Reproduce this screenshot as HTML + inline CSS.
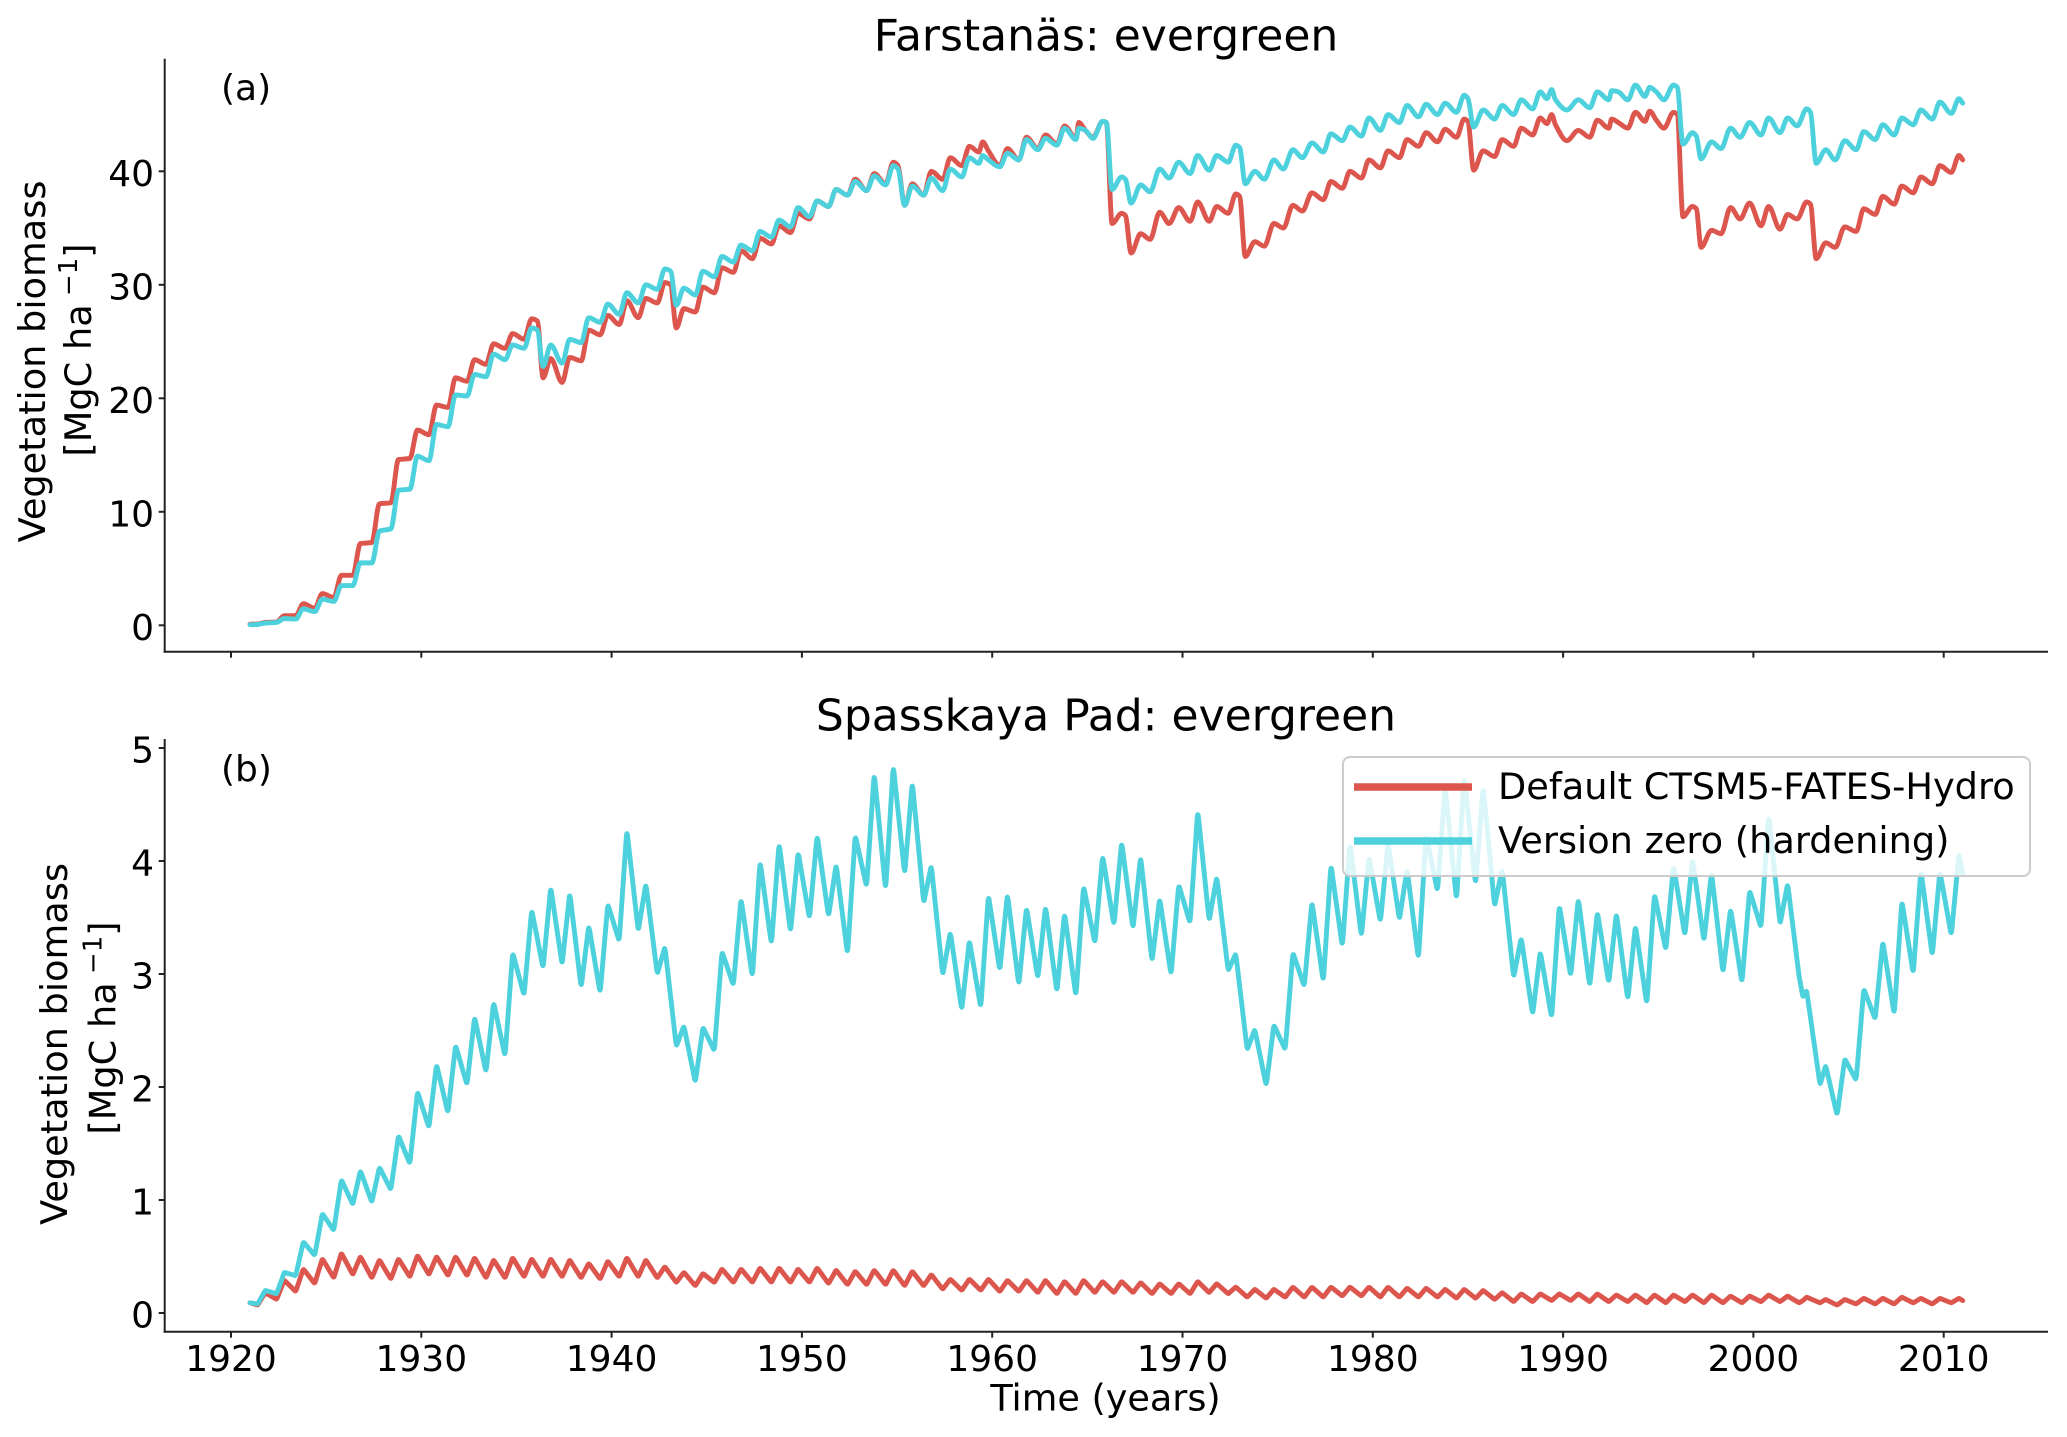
<!DOCTYPE html>
<html lang="en">
<head>
<meta charset="utf-8">
<title>Vegetation biomass: evergreen</title>
<style>
html,body{margin:0;padding:0;background:#fff;width:2067px;height:1437px;overflow:hidden}
svg{display:block}
text{font-family:"DejaVu Sans","Liberation Sans",sans-serif;fill:#000}
</style>
</head>
<body>
<svg id="chart" xmlns="http://www.w3.org/2000/svg" width="2067" height="1437" viewBox="0 0 2067 1437">
  <rect x="0" y="0" width="2067" height="1437" fill="#fff"/>
  <g id="panel-a">
    <text x="1106" y="50.5" font-size="44" text-anchor="middle">Farstanäs: evergreen</text>
    <text x="221" y="100" font-size="36">(a)</text>
    <text transform="translate(45,361.5) rotate(-90)" font-size="36.7" text-anchor="middle">Vegetation biomass</text>
    <text transform="translate(91,350) rotate(-90)" font-size="36.7" text-anchor="middle">[MgC ha<tspan font-size="26" dy="-14"> −1</tspan><tspan dy="14">]</tspan></text>
  </g>
  <g id="panel-b">
    <text x="1106" y="730.5" font-size="44" text-anchor="middle">Spasskaya Pad: evergreen</text>
    <text x="221" y="781" font-size="36">(b)</text>
    <text transform="translate(67,1044) rotate(-90)" font-size="36.7" text-anchor="middle">Vegetation biomass</text>
    <text transform="translate(115.5,1028) rotate(-90)" font-size="36.7" text-anchor="middle">[MgC ha<tspan font-size="26" dy="-14"> −1</tspan><tspan dy="14">]</tspan></text>
    <text x="1105.5" y="1410.5" font-size="36.6" text-anchor="middle">Time (years)</text>
  </g>
  <g id="legend"></g>
</svg>
<script>
/* ---------- tick labels ---------- */
const xTicks = [1920, 1930, 1940, 1950, 1960, 1970, 1980, 1990, 2000, 2010];
const yTicksA = [0, 10, 20, 30, 40];
const yTicksB = [0, 1, 2, 3, 4, 5];

/* ---------- panel (a) Farstanäs ---------- */
const timeA = [
1921,1921.4,1921.8,1922.4,1922.8,1923.4,1923.8,1924.4,1924.8,1925.4,1925.8,1926.4,1926.8,1927.4,1927.8,1928.4,1928.8,1929.4,1929.8,1930.4,
1930.8,1931.4,1931.8,1932.4,1932.8,1933.4,1933.8,1934.4,1934.8,1935.4,1935.8,1936.1,1936.4,1936.8,1937.4,1937.8,1938.4,1938.8,1939.4,1939.8,1940.4,
1940.8,1941.4,1941.8,1942.4,1942.8,1943.1,1943.4,1943.8,1944.4,1944.8,1945.4,1945.8,1946.4,1946.8,1947.4,1947.8,1948.4,1948.8,1949.4,1949.8,1950.4,
1950.8,1951.4,1951.8,1952.4,1952.8,1953.4,1953.8,1954.4,1954.8,1955.05,1955.4,1955.8,1956.4,1956.8,1957.4,1957.8,1958.4,1958.8,1959.3,1959.5,1959.8,1960.4,
1960.8,1961.4,1961.8,1962.4,1962.8,1963.4,1963.8,1964.4,1964.55,1964.9,1965.3,1965.8,1966.0,1966.3,1966.8,1967.0,1967.3,1967.8,1968.3,1968.8,1969.3,1969.8,1970.4,
1970.8,1971.4,1971.8,1972.4,1972.8,1973.0,1973.3,1973.8,1974.3,1974.8,1975.3,1975.8,1976.3,1976.8,1977.4,1977.8,1978.4,1978.8,1979.4,1979.8,1980.4,
1980.8,1981.4,1981.8,1982.4,1982.8,1983.4,1983.8,1984.4,1984.8,1985.0,1985.3,1985.8,1986.4,1986.8,1987.4,1987.8,1988.4,1988.8,1989.15,1989.4,1989.6,1990.2,
1990.8,1991.4,1991.8,1992.4,1992.55,1992.9,1993.4,1993.8,1994.3,1994.55,1994.9,1995.3,1995.8,1996.0,1996.3,1996.8,1997.0,1997.25,1997.8,1998.3,1998.8,1999.3,1999.8,2000.4,
2000.8,2001.4,2001.8,2002.3,2002.8,2003.0,2003.3,2003.8,2004.3,2004.8,2005.4,2005.8,2006.4,2006.8,2007.4,2007.8,2008.4,2008.8,2009.4,2009.8,2010.4,2010.8,2011
];
const defaultA = [
0.1,0.12,0.25,0.3,0.85,0.85,1.9,1.5,2.8,2.45,4.4,4.4,7.2,7.3,10.7,10.8,14.6,14.7,17.2,16.8,
19.4,19.2,21.8,21.5,23.4,23.0,24.8,24.4,25.7,25.2,27.0,26.8,21.8,23.5,21.4,23.6,23.3,26.0,25.6,27.3,26.5,
28.6,27.1,28.8,28.4,30.2,30.0,26.2,27.9,27.6,29.8,29.3,31.5,31.1,33.0,32.3,34.1,33.6,35.2,34.6,36.3,35.8,
37.4,36.9,38.4,37.9,39.3,38.3,39.8,38.9,40.8,40.5,37.0,38.9,37.9,40.0,39.3,41.2,40.5,42.2,41.7,42.6,41.8,40.5,
42.0,41.0,43.0,42.0,43.2,42.4,44.0,42.9,44.3,43.6,43.0,44.4,44.3,35.4,36.3,36.1,32.8,34.5,34.0,36.4,35.4,36.8,35.6,
37.3,35.6,36.9,36.3,38.0,37.8,32.5,33.8,33.4,35.4,35.0,37.0,36.5,38.1,37.5,39.1,38.5,40.0,39.4,41.0,40.3,
41.8,41.2,42.8,42.2,43.4,42.6,43.7,43.0,44.6,44.4,40.1,41.8,41.3,42.8,42.2,43.8,43.2,44.7,44.2,45.0,44.1,42.7,
43.6,43.0,44.5,43.8,44.6,44.3,43.8,45.2,44.4,45.3,44.5,43.8,45.2,45.0,36.0,36.9,36.7,33.3,34.8,34.5,36.8,35.8,37.2,35.2,
36.9,34.9,36.2,35.8,37.3,37.1,32.3,33.7,33.3,35.1,34.7,36.7,36.2,37.8,37.1,38.7,38.1,39.5,38.9,40.5,39.9,41.4,41.0
];
const hardeningA = [
0.05,0.08,0.2,0.25,0.6,0.55,1.45,1.2,2.3,2.1,3.5,3.5,5.5,5.5,8.3,8.5,11.9,12.0,14.9,14.5,
17.7,17.5,20.3,20.2,22.1,21.9,23.9,23.4,24.7,24.4,26.2,26.0,22.8,24.7,23.1,25.2,24.9,27.1,26.7,28.3,27.4,
29.3,28.4,30.0,29.6,31.4,31.2,28.2,29.7,29.1,31.2,30.7,32.5,32.0,33.5,33.0,34.7,34.2,35.7,35.1,36.8,36.0,
37.4,36.9,38.4,37.9,39.1,38.3,39.6,38.8,40.5,40.2,37.0,38.7,37.9,39.4,38.3,40.2,39.5,41.2,40.7,41.4,41.0,40.4,
41.6,41.0,42.8,41.9,42.9,42.3,43.8,42.8,43.8,43.6,42.9,44.4,44.3,38.4,39.5,39.3,37.2,38.8,38.2,40.2,39.4,40.8,39.8,
41.4,40.1,41.4,40.8,42.3,42.1,38.9,40.0,39.3,41.0,40.2,41.9,41.2,42.5,41.7,43.3,42.7,43.9,43.1,44.7,43.6,
45.0,44.3,45.8,44.8,45.9,45.0,46.0,45.2,46.7,46.4,43.9,45.4,44.6,45.8,45.0,46.3,45.5,47.0,46.4,47.2,46.3,45.4,
46.3,45.6,47.0,46.3,47.1,47.0,46.3,47.6,46.6,47.4,47.0,46.3,47.6,47.4,42.4,43.4,43.1,41.1,42.6,42.0,43.8,43.0,44.3,43.2,
44.7,43.4,44.7,44.0,45.5,45.2,40.7,41.9,41.0,42.7,41.9,43.5,42.8,44.1,43.2,44.7,44.1,45.4,44.6,46.1,45.1,46.4,46.0
];

/* ---------- panel (b) Spasskaya Pad ---------- */
const timeB = [
1921,1921.4,1921.8,1922.4,1922.8,1923.4,1923.8,1924.4,1924.8,1925.4,1925.8,1926.4,1926.8,1927.4,1927.8,1928.4,1928.8,1929.4,1929.8,1930.4,1930.8,
1931.4,1931.8,1932.4,1932.8,1933.4,1933.8,1934.4,1934.8,1935.4,1935.8,1936.4,1936.8,1937.4,1937.8,1938.4,1938.8,1939.4,1939.8,1940.4,1940.8,
1941.4,1941.8,1942.4,1942.8,1943.4,1943.8,1944.4,1944.8,1945.4,1945.8,1946.4,1946.8,1947.4,1947.8,1948.4,1948.8,1949.4,1949.8,1950.4,1950.8,
1951.4,1951.8,1952.4,1952.8,1953.4,1953.8,1954.4,1954.8,1955.4,1955.8,1956.4,1956.8,1957.4,1957.8,1958.4,1958.8,1959.4,1959.8,1960.4,1960.8,
1961.4,1961.8,1962.4,1962.8,1963.4,1963.8,1964.4,1964.8,1965.4,1965.8,1966.4,1966.8,1967.4,1967.8,1968.4,1968.8,1969.4,1969.8,1970.4,1970.8,
1971.4,1971.8,1972.4,1972.8,1973.4,1973.8,1974.4,1974.8,1975.4,1975.8,1976.4,1976.8,1977.4,1977.8,1978.4,1978.8,1979.4,1979.8,1980.4,1980.8,
1981.4,1981.8,1982.4,1982.8,1983.4,1983.8,1984.4,1984.8,1985.4,1985.8,1986.4,1986.8,1987.4,1987.8,1988.4,1988.8,1989.4,1989.8,1990.4,1990.8,
1991.4,1991.8,1992.4,1992.8,1993.4,1993.8,1994.4,1994.8,1995.4,1995.8,1996.4,1996.8,1997.4,1997.8,1998.4,1998.8,1999.4,1999.8,2000.4,2000.8,
2001.4,2001.8,2002.4,2002.6,2002.8,2003.5,2003.8,2004.4,2004.8,2005.4,2005.8,2006.4,2006.8,2007.4,2007.8,2008.4,2008.8,2009.4,2009.8,2010.4,2010.8,2011
];
const defaultB = [
0.09,0.07,0.18,0.12,0.29,0.19,0.39,0.26,0.48,0.31,0.53,0.34,0.5,0.31,0.47,0.30,0.48,0.32,0.51,0.34,0.5,
0.33,0.5,0.33,0.49,0.31,0.47,0.31,0.49,0.32,0.48,0.32,0.48,0.32,0.47,0.31,0.44,0.3,0.46,0.32,0.49,
0.32,0.47,0.31,0.41,0.27,0.36,0.24,0.35,0.27,0.39,0.27,0.39,0.27,0.40,0.27,0.40,0.27,0.39,0.27,0.40,
0.26,0.38,0.25,0.37,0.25,0.38,0.25,0.38,0.24,0.37,0.24,0.34,0.21,0.3,0.2,0.3,0.2,0.3,0.19,0.29,
0.19,0.29,0.18,0.29,0.17,0.28,0.17,0.29,0.18,0.28,0.18,0.28,0.18,0.27,0.17,0.26,0.17,0.26,0.17,0.28,
0.18,0.26,0.17,0.23,0.14,0.21,0.13,0.21,0.14,0.23,0.14,0.23,0.14,0.23,0.15,0.23,0.15,0.23,0.14,0.23,
0.14,0.22,0.14,0.22,0.14,0.21,0.13,0.21,0.13,0.2,0.12,0.18,0.1,0.17,0.1,0.17,0.11,0.17,0.11,0.17,
0.1,0.17,0.1,0.16,0.1,0.16,0.09,0.16,0.09,0.16,0.1,0.16,0.09,0.16,0.09,0.15,0.09,0.15,0.1,0.16,
0.1,0.15,0.09,0.11,0.14,0.09,0.12,0.07,0.12,0.08,0.13,0.08,0.13,0.08,0.14,0.09,0.13,0.08,0.13,0.09,0.13,0.11
];
const hardeningB = [
0.09,0.08,0.2,0.17,0.36,0.33,0.63,0.51,0.88,0.73,1.18,0.96,1.26,0.98,1.29,1.09,1.57,1.32,1.96,1.64,2.2,
1.77,2.37,2.02,2.62,2.13,2.75,2.27,3.19,2.81,3.57,3.05,3.77,3.08,3.72,2.88,3.43,2.83,3.62,3.29,4.28,
3.38,3.8,3.0,3.24,2.36,2.54,2.04,2.53,2.32,3.2,2.9,3.67,2.97,4.0,3.26,4.16,3.37,4.08,3.49,4.23,
3.51,3.97,3.17,4.23,3.77,4.78,3.74,4.85,3.88,4.70,3.63,3.96,2.99,3.37,2.68,3.3,2.7,3.7,3.03,3.71,
2.9,3.59,2.96,3.6,2.84,3.54,2.8,3.78,3.27,4.05,3.43,4.17,3.4,4.04,3.11,3.67,2.99,3.79,3.45,4.45,
3.47,3.86,3.03,3.18,2.33,2.51,2.01,2.55,2.33,3.19,2.89,3.64,2.93,3.97,3.24,4.16,3.33,4.04,3.46,4.16,
3.48,3.93,3.13,4.23,3.73,4.66,3.65,4.75,3.79,4.66,3.6,3.93,2.97,3.32,2.64,3.2,2.61,3.61,2.98,3.67,
2.89,3.55,2.92,3.54,2.77,3.43,2.73,3.71,3.21,3.96,3.34,4.02,3.29,3.9,3.01,3.58,2.92,3.74,3.41,4.41,
3.44,3.8,2.98,2.8,2.85,2.02,2.19,1.75,2.25,2.06,2.87,2.6,3.29,2.64,3.65,3.0,3.92,3.16,3.91,3.34,4.06,3.89
];

/* ---------- legend labels ---------- */
const seriesNames = ["Default CTSM5-FATES-Hydro", "Version zero (hardening)"];

/* ---------- axis functions ---------- */
const RED = "#dc564e";
const CYAN = "#4dd2dd";
const SPINE = "#222";
const NS = "http://www.w3.org/2000/svg";
const axisLeft = 164.7, axisRight = 2048;
function xScale(t){ return 231 + (t - 1920) * 19.03; }
function yScaleA(v){ return 625.3 - v * 11.35; }
function yScaleB(v){ return 1313 - v * 113; }

function make(tag, attrs){
  const el = document.createElementNS(NS, tag);
  for (const k in attrs) el.setAttribute(k, attrs[k]);
  return el;
}

/* monotone-x cubic through the points: rounds the tops without overshoot */
function monotonePath(xs, ys){
  const n = xs.length, d = [], m = [];
  for (let i = 0; i < n - 1; i++) d[i] = (ys[i + 1] - ys[i]) / (xs[i + 1] - xs[i]);
  m[0] = d[0]; m[n - 1] = d[n - 2];
  for (let i = 1; i < n - 1; i++) {
    m[i] = d[i - 1] * d[i] <= 0 ? 0 : 2 * d[i - 1] * d[i] / (d[i - 1] + d[i]);
  }
  let p = "M" + xs[0].toFixed(2) + " " + ys[0].toFixed(2);
  for (let i = 0; i < n - 1; i++) {
    const h = (xs[i + 1] - xs[i]) / 3;
    p += "C" + (xs[i] + h).toFixed(2) + " " + (ys[i] + m[i] * h).toFixed(2) + " " +
         (xs[i + 1] - h).toFixed(2) + " " + (ys[i + 1] - m[i + 1] * h).toFixed(2) + " " +
         xs[i + 1].toFixed(2) + " " + ys[i + 1].toFixed(2);
  }
  return p;
}
/* straight segments with each vertex slightly rounded */
function roundedPath(xs, ys){
  const c = 0.08, n = xs.length;
  let p = "M" + xs[0].toFixed(2) + " " + ys[0].toFixed(2);
  for (let i = 1; i < n - 1; i++) {
    const ax = xs[i] + (xs[i - 1] - xs[i]) * c, ay = ys[i] + (ys[i - 1] - ys[i]) * c;
    const bx = xs[i] + (xs[i + 1] - xs[i]) * c, by = ys[i] + (ys[i + 1] - ys[i]) * c;
    p += "L" + ax.toFixed(2) + " " + ay.toFixed(2) +
         "Q" + xs[i].toFixed(2) + " " + ys[i].toFixed(2) + " " + bx.toFixed(2) + " " + by.toFixed(2);
  }
  return p + "L" + xs[n - 1].toFixed(2) + " " + ys[n - 1].toFixed(2);
}

function drawAxes(group, top, bottom, yTicks, yScale, showXLabels, prefix){
  const leftSpine = make("line", {x1: axisLeft, x2: axisLeft, y1: top, y2: bottom + 1, stroke: SPINE, "stroke-width": 2});
  
  
  group.appendChild(leftSpine);
  const bottomSpine = make("line", {x1: axisLeft - 1, x2: axisRight, y1: bottom, y2: bottom, stroke: SPINE, "stroke-width": 2});
  
  
  group.appendChild(bottomSpine);
  yTicks.forEach(function(v){
    const y = yScale(v);
    const tick = make("line", {x1: axisLeft - 6, x2: axisLeft, y1: y, y2: y, stroke: SPINE, "stroke-width": 2});
    
    
    group.appendChild(tick);
    const label = make("text", {x: 154, y: y + 14.5, "font-size": 36, "text-anchor": "end"});
    label.textContent = String(v);
    
    
    group.appendChild(label);
  });
  xTicks.forEach(function(t){
    const x = xScale(t);
    const tick = make("line", {x1: x, x2: x, y1: bottom, y2: bottom + 6, stroke: SPINE, "stroke-width": 2});
    
    
    group.appendChild(tick);
    if (showXLabels) {
      const label = make("text", {x: x, y: bottom + 39.5, "font-size": 36, "text-anchor": "middle"});
      label.textContent = String(t);
      
      
      group.appendChild(label);
    }
  });
}

function drawSeries(group, times, values, yScale, color, name, smooth){
  const xs = times.map(xScale), ys = values.map(yScale);
  const path = make("path", {
    d: smooth ? monotonePath(xs, ys) : roundedPath(xs, ys),
    fill: "none", stroke: color, "stroke-width": 4.9,
    "stroke-linejoin": "round", "stroke-linecap": "round"
  });
  
  
  group.appendChild(path);
}

const panelA = document.getElementById("panel-a");
const panelB = document.getElementById("panel-b");
drawAxes(panelA, 58.7, 651.7, yTicksA, yScaleA, false, "panel-a");
drawAxes(panelB, 739, 1331.7, yTicksB, yScaleB, true, "panel-b");
drawSeries(panelA, timeA, defaultA, yScaleA, RED, "panel-a-default-line", true);
drawSeries(panelA, timeA, hardeningA, yScaleA, CYAN, "panel-a-hardening-line", true);
drawSeries(panelB, timeB, defaultB, yScaleB, RED, "panel-b-default-line", false);
drawSeries(panelB, timeB, hardeningB, yScaleB, CYAN, "panel-b-hardening-line", false);

/* legend */
const legend = document.getElementById("legend");
const frame = make("rect", {x: 1343, y: 757, width: 687, height: 119, rx: 7, fill: "#fff", "fill-opacity": 0.8, stroke: "#ccc", "stroke-width": 2});


legend.appendChild(frame);
[RED, CYAN].forEach(function(color, i){
  const rowY = 787 + i * 54;
  const swatch = make("line", {x1: 1354, x2: 1472, y1: rowY, y2: rowY, stroke: color, "stroke-width": 7.5});
  
  
  legend.appendChild(swatch);
  const label = make("text", {x: 1498, y: rowY + 12, "font-size": 36.7});
  label.textContent = seriesNames[i];
  
  
  legend.appendChild(label);
});
</script>
</body>
</html>
